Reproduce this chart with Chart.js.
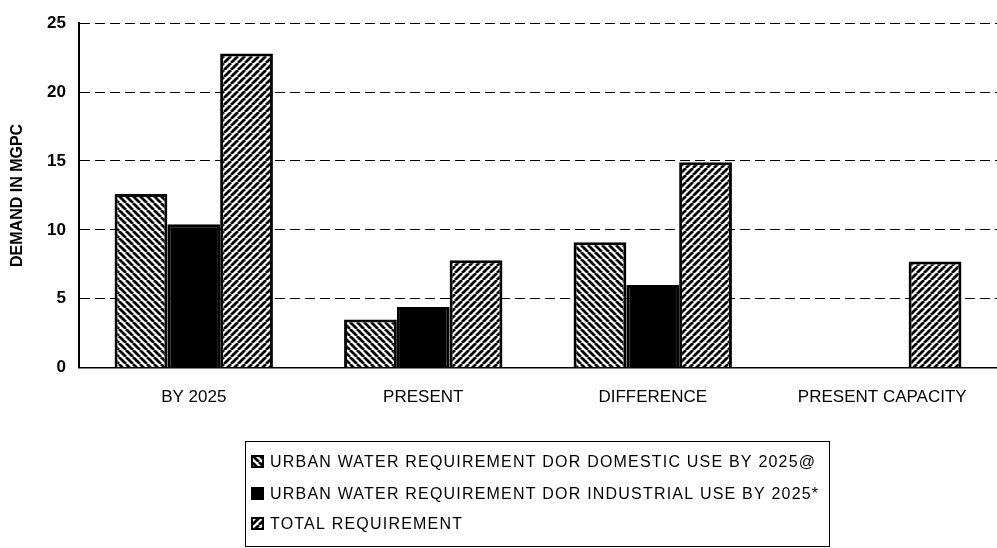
<!DOCTYPE html>
<html>
<head>
<meta charset="utf-8">
<script src="https://cdn.jsdelivr.net/npm/chart.js@4/dist/chart.umd.min.js"></script>
<style>
  html, body { margin: 0; padding: 0; background: #fff; }
  #wrap { width: 997px; height: 548px; position: relative; }
</style>
</head>
<body>
<div id="wrap"><canvas id="c" width="997" height="548"></canvas></div>
<script>
const categories = ['BY 2025', 'PRESENT', 'DIFFERENCE', 'PRESENT CAPACITY'];
const domesticUse = [12.6, 3.5, 9.1, null];
const industrialUse = [10.4, 4.4, 6.0, null];
const totalRequirement = [22.8, 7.8, 14.9, 7.7];
const seriesLabels = [
  'URBAN WATER REQUIREMENT DOR DOMESTIC USE BY 2025@',
  'URBAN WATER REQUIREMENT DOR INDUSTRIAL USE BY 2025*',
  'TOTAL REQUIREMENT'
];
const yTicks = [0, 5, 10, 15, 20, 25];
const yTitle = 'DEMAND IN MGPC';

function stripes(dir) {
  const s = 7;
  const c = document.createElement('canvas');
  c.width = s; c.height = s;
  const g = c.getContext('2d');
  g.fillStyle = '#fff';
  g.fillRect(0, 0, s, s);
  g.strokeStyle = '#000';
  g.lineWidth = 2.8;
  g.beginPath();
  for (let k = -1; k <= 1; k++) {
    if (dir > 0) { g.moveTo(k * s, s); g.lineTo(k * s + s, 0); }
    else { g.moveTo(k * s, 0); g.lineTo(k * s + s, s); }
  }
  g.stroke();
  return g.createPattern(c, 'repeat');
}

const fillDomestic = stripes(-1);
const fillIndustrial = '#000';
const fillTotal = stripes(1);

const boxLegend = {
  id: 'boxLegend',
  afterDraw(chart) {
    const ctx = chart.ctx;
    const L = 245, T = 441, R = 829, B = 546;
    ctx.save();
    ctx.strokeStyle = '#000';
    ctx.lineWidth = 1;
    ctx.strokeRect(L + 0.5, T + 0.5, R - L, B - T);
    const rowY = [462, 494, 524];
    ctx.font = '16px "Liberation Sans", Arial, sans-serif';
    ctx.textBaseline = 'middle';
    if ('letterSpacing' in ctx) ctx.letterSpacing = '1.2px';
    chart.data.datasets.forEach((ds, i) => {
      const y = rowY[i];
      ctx.fillStyle = ds.backgroundColor;
      ctx.fillRect(252, y - 6, 11, 11);
      ctx.lineWidth = 2;
      ctx.strokeStyle = '#000';
      ctx.strokeRect(252, y - 6, 11, 11);
      ctx.fillStyle = '#000';
      ctx.fillText(ds.label, 270, y + 1);
    });
    ctx.restore();
  }
};

new Chart(document.getElementById('c'), {
  type: 'bar',
  data: {
    labels: categories,
    datasets: [
      { label: seriesLabels[0], data: domesticUse, backgroundColor: fillDomestic, borderColor: '#000', borderWidth: 3 },
      { label: seriesLabels[1], data: industrialUse, backgroundColor: fillIndustrial, borderColor: '#000', borderWidth: 3 },
      { label: seriesLabels[2], data: totalRequirement, backgroundColor: fillTotal, borderColor: '#000', borderWidth: 3 }
    ]
  },
  options: {
    responsive: false,
    animation: false,
    devicePixelRatio: 1,
    categoryPercentage: 0.69,
    barPercentage: 1.0,
    layout: { padding: { top: 22, right: 0, bottom: 120, left: 0 } },
    plugins: { legend: { display: false }, tooltip: { enabled: false } },
    scales: {
      x: {
        grid: { display: false, drawTicks: false },
        border: { display: true, color: '#000', width: 1.5 },
        ticks: { color: '#000', padding: 20, maxRotation: 0, font: { family: '"Liberation Sans", Arial, sans-serif', size: 17 } }
      },
      y: {
        min: 0, max: 25,
        afterBuildTicks(scale) { scale.ticks = yTicks.map(v => ({ value: v })); },
        afterFit(scale) { scale.width = 79; },
        grid: { color: '#000', lineWidth: 1, drawTicks: false },
        border: { display: true, color: '#000', width: 2, dash: [10, 5] },
        ticks: { color: '#000', padding: 13, font: { family: '"Liberation Sans", Arial, sans-serif', size: 17, weight: 'bold' } },
        title: { display: true, text: yTitle, color: '#000', padding: { top: 8, bottom: 0 }, font: { family: '"Liberation Sans", Arial, sans-serif', size: 16, weight: 'bold' } }
      }
    }
  },
  plugins: [boxLegend]
});
</script>
</body>
</html>
